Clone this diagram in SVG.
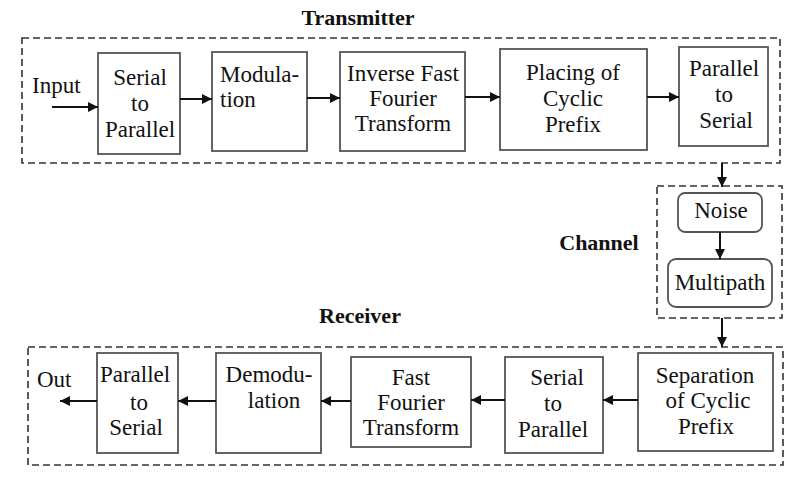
<svg xmlns="http://www.w3.org/2000/svg" width="800" height="481" viewBox="0 0 800 481">
<defs>
<marker id="ah" viewBox="0 0 10 10" refX="10" refY="5" markerWidth="10" markerHeight="10" markerUnits="userSpaceOnUse" orient="auto">
<path d="M0,0 L10,5 L0,10 z" fill="#111"/>
</marker>
<style>
.grp{fill:none;stroke:#333;stroke-width:1.6;stroke-dasharray:7,4}
.box{fill:#fff;stroke:#555;stroke-width:1.8}
.t{font-family:"Liberation Serif","Times New Roman",serif;font-size:23px;fill:#111;text-anchor:middle}
.l{text-anchor:start}
.h{font-family:"Liberation Serif","Times New Roman",serif;font-size:22px;font-weight:bold;fill:#111;text-anchor:middle}
.c line{stroke:#111;stroke-width:2;marker-end:url(#ah)}
</style>
</defs>
<rect width="800" height="481" fill="#fff"/>

<g id="transmitter">
<rect class="grp" x="22" y="38" width="758" height="125"/>
<text class="h" x="358" y="25">Transmitter</text>
</g>
<g id="channel">
<rect class="grp" x="657" y="186" width="125" height="132"/>
<text class="h" x="599" y="250">Channel</text>
</g>
<g id="receiver">
<rect class="grp" x="28" y="347" width="755" height="118"/>
<text class="h" x="360" y="323">Receiver</text>
</g>

<g id="input"><text class="t l" x="32" y="93">Input</text></g>
<g id="tx-s2p">
<rect class="box" x="98" y="53" width="82" height="101"/>
<text class="t" x="140" y="85">Serial</text>
<text class="t" x="140" y="111">to</text>
<text class="t" x="140" y="137">Parallel</text>
</g>
<g id="tx-mod">
<rect class="box" x="212" y="52" width="95" height="99"/>
<text class="t l" x="220" y="82">Modula-</text>
<text class="t l" x="220" y="107">tion</text>
</g>
<g id="tx-ifft">
<rect class="box" x="340" y="52" width="125" height="99"/>
<text class="t" x="403" y="81">Inverse Fast</text>
<text class="t" x="403" y="106">Fourier</text>
<text class="t" x="403" y="131">Transform</text>
</g>
<g id="tx-cp">
<rect class="box" x="500" y="49" width="147" height="101"/>
<text class="t" x="573" y="80">Placing of</text>
<text class="t" x="573" y="106">Cyclic</text>
<text class="t" x="573" y="132">Prefix</text>
</g>
<g id="tx-p2s">
<rect class="box" x="679" y="47" width="89" height="99"/>
<text class="t" x="724" y="76">Parallel</text>
<text class="t" x="724" y="102">to</text>
<text class="t" x="726" y="128">Serial</text>
</g>

<g id="noise">
<rect class="box" x="678" y="193" width="84" height="39" rx="7"/>
<text class="t" x="721" y="218">Noise</text>
</g>
<g id="multipath">
<rect class="box" x="668" y="259" width="104" height="48" rx="8"/>
<text class="t" x="720" y="290">Multipath</text>
</g>

<g id="rx-sep">
<rect class="box" x="638" y="353" width="135" height="98"/>
<text class="t" x="705" y="383">Separation</text>
<text class="t" x="708" y="408">of Cyclic</text>
<text class="t" x="706" y="434">Prefix</text>
</g>
<g id="rx-s2p">
<rect class="box" x="505" y="357" width="98" height="96"/>
<text class="t" x="557" y="385">Serial</text>
<text class="t" x="553" y="411">to</text>
<text class="t" x="553" y="437">Parallel</text>
</g>
<g id="rx-fft">
<rect class="box" x="351" y="357" width="120" height="90"/>
<text class="t" x="411" y="385">Fast</text>
<text class="t" x="411" y="410">Fourier</text>
<text class="t" x="411" y="435">Transform</text>
</g>
<g id="rx-demod">
<rect class="box" x="216" y="353" width="105" height="100"/>
<text class="t" x="269" y="382">Demodu-</text>
<text class="t" x="274" y="408">lation</text>
</g>
<g id="rx-p2s">
<rect class="box" x="97" y="353" width="81" height="100"/>
<text class="t" x="135" y="382">Parallel</text>
<text class="t" x="139" y="410">to</text>
<text class="t" x="136" y="435">Serial</text>
</g>
<g id="out"><text class="t l" x="37" y="387">Out</text></g>

<g id="connectors" class="c">
<line x1="52" y1="107" x2="98" y2="107"/>
<line x1="180" y1="99" x2="212" y2="99"/>
<line x1="307" y1="98" x2="340" y2="98"/>
<line x1="465" y1="97" x2="500" y2="97"/>
<line x1="647" y1="97" x2="679" y2="97"/>
<line x1="722" y1="163" x2="722" y2="187"/>
<line x1="720" y1="232" x2="720" y2="259"/>
<line x1="722" y1="318" x2="722" y2="347"/>
<line x1="638" y1="400" x2="603" y2="400"/>
<line x1="505" y1="400" x2="471" y2="400"/>
<line x1="351" y1="401" x2="321" y2="401"/>
<line x1="216" y1="401" x2="178" y2="401"/>
<line x1="97" y1="401" x2="60" y2="401"/>
</g>
</svg>
